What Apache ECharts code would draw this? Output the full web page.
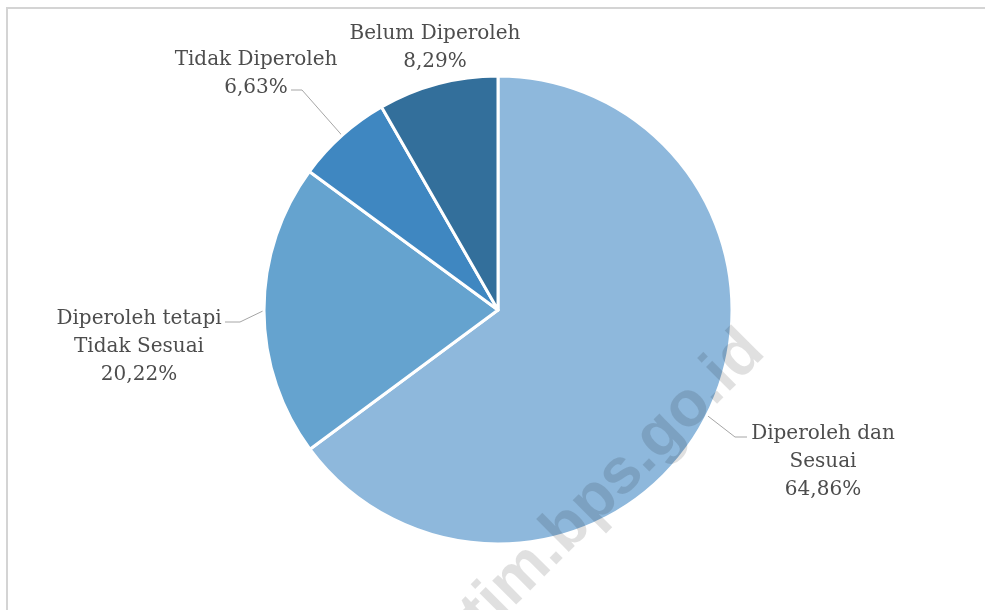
<!DOCTYPE html>
<html>
<head>
<meta charset="utf-8">
<style>
  html, body { margin: 0; padding: 0; background: #ffffff; }
  #chart { width: 985px; height: 610px; }
</style>
<script src="https://cdn.jsdelivr.net/npm/echarts@6/dist/echarts.min.js"></script>
</head>
<body>
<div id="chart"></div>
<script>
// Status of the diploma/certificate obtained (percent of respondents)
const categories = [
  'Diperoleh dan\nSesuai',
  'Diperoleh tetapi\nTidak Sesuai',
  'Tidak Diperoleh',
  'Belum Diperoleh'
];
const shares = [64.86, 20.22, 6.63, 8.29];
const sliceColors = ['#8eb8dc', '#65a3cf', '#3f87c1', '#336f9b'];

// label anchor (centre of the text block) and leader-line elbow/end per slice
const labelSpots = [
  { x: 823, y: 462, line: [[735, 437], [747, 437]] },
  { x: 139, y: 347, line: [[240, 322], [225, 322]] },
  { x: 256, y: 74,  line: [[302, 90], [291, 90]] },
  { x: 435, y: 48,  line: null }
];

const fmt = v => v.toFixed(2).replace('.', ',') + '%';

const chart = echarts.init(document.getElementById('chart'), null, { renderer: 'canvas' });

chart.setOption({
  backgroundColor: '#ffffff',
  animation: false,
  graphic: [
    {
      type: 'polyline',
      silent: true,
      shape: { points: [[7, 620], [7, 8], [995, 8]] },
      style: { stroke: '#d4d4d4', lineWidth: 2, fill: null }
    },
    {
      type: 'text',
      silent: true,
      z: 100,
      x: 777,
      y: 364,
      rotation: Math.PI / 4,
      style: {
        text: 'jatim.bps.go.id',
        font: 'bold 64px "Liberation Sans", Arial, sans-serif',
        fill: 'rgba(0,0,0,0.12)',
        textAlign: 'right',
        textVerticalAlign: 'bottom'
      }
    }
  ],
  series: [{
    type: 'pie',
    center: [498, 310],
    radius: [0, 234],
    startAngle: 90,
    clockwise: true,
    avoidLabelOverlap: false,
    itemStyle: { borderColor: '#ffffff', borderWidth: 3 },
    label: {
      show: true,
      position: 'outside',
      formatter: p => p.name + '\n' + fmt(p.value),
      fontFamily: '"DejaVu Serif", serif',
      fontSize: 20,
      lineHeight: 28,
      color: '#4d4d4d',
      align: 'center'
    },
    labelLine: {
      show: true,
      length: 20,
      length2: 10,
      lineStyle: { color: '#a6a6a6', width: 1 }
    },
    labelLayout: function (params) {
      const spot = labelSpots[params.dataIndex];
      const out = { x: spot.x, y: spot.y, align: 'center', verticalAlign: 'middle' };
      if (spot.line && params.labelLinePoints) {
        const start = params.labelLinePoints[0];
        out.labelLinePoints = [start, spot.line[0], spot.line[1]];
      }
      return out;
    },
    data: categories.map((name, i) => ({
      name: name,
      value: shares[i],
      itemStyle: { color: sliceColors[i] },
      labelLine: { show: labelSpots[i].line !== null }
    }))
  }]
});
</script>
</body>
</html>
